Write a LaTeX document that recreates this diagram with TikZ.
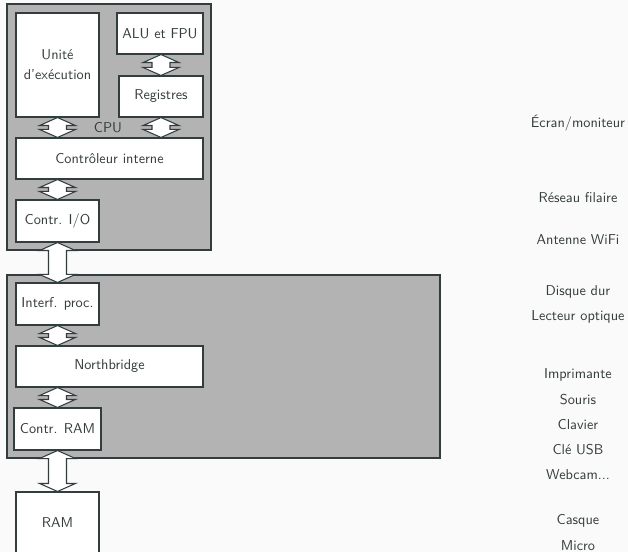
\documentclass[tikz,border=0pt]{standalone}
\usetikzlibrary{calc}
\definecolor{bg}{RGB}{250,250,250}
\definecolor{edge}{RGB}{50,62,62}
\definecolor{txt}{RGB}{52,60,60}
\definecolor{chip}{RGB}{179,179,179}
\newcommand\dbarrow[2]{\draw[arrowshape] (#1) -- ($(#1)+(18,8)$) -- ($(#1)+(9,8)$) -- ($(#2)+(9,-8)$) -- ($(#2)+(18,-8)$) -- (#2) -- ($(#2)+(-18,-8)$) -- ($(#2)+(-9,-8)$) -- ($(#1)+(-9,8)$) -- ($(#1)+(-18,8)$) -- cycle;}
\begin{document}
\begin{tikzpicture}[x=0.75pt,y=-0.75pt,
  every node/.style={font=\sffamily\fontsize{10.7}{15}\selectfont, text=txt},
  px/.style 2 args={minimum width=#1*0.75pt, minimum height=#2*0.75pt},
  box/.style={draw=edge, line width=0.8pt, fill=white, inner sep=0pt, align=center},
  chipbox/.style={draw=edge, line width=0.8pt, fill=chip, inner sep=0pt},
  arrowshape/.style={draw=edge, line width=0.8pt, fill=white, line join=miter},
  side/.style={anchor=center}]
\fill[bg] (0,0) rectangle (628,552);
\useasboundingbox (0,0) rectangle (628,552);
% CPU
\node[chipbox, px={204}{246}] (cpu) at (109,127) {};
\node[box, px={83}{104}] (exec) at (57.5,65) {Unité\\d'exécution};
\node[box, px={86}{41}] (alu) at (160,33.5) {ALU et FPU};
\node[box, px={84}{41}] (reg) at (161,96.5) {Registres};
\node[box, px={187}{41}] (ctrl) at (109.5,158.5) {Contrôleur interne};
\node[box, px={83}{42}] (cio) at (57.5,221) {Contr. I/O};
\node (cpulabel) at (108,128) {CPU};
% chipset
\node[chipbox, px={433}{183}] (chipset) at (223.5,366.5) {};
\node[box, px={83}{42}] (ip) at (57.5,304) {Interf. proc.};
\node[box, px={187}{41}] (nb) at (109.5,366.5) {Northbridge};
\node[box, px={87}{42}] (cram) at (57.5,429) {Contr. RAM};
\node[box, px={83}{62}] (ram) at (57.5,523) {RAM};
% arrows
\dbarrow{reg.north |- alu.south}{reg.north}
\dbarrow{exec.south}{exec.south |- ctrl.north}
\dbarrow{reg.south}{reg.south |- ctrl.north}
\dbarrow{cio.north |- ctrl.south}{cio.north}
\dbarrow{cio.south}{ip.north}
\dbarrow{ip.south}{ip.south |- nb.north}
\dbarrow{cram.north |- nb.south}{cram.north}
\dbarrow{cram.south}{ram.north}
% peripherals
\node[side] (ecran) at (578,123) {Écran/moniteur};
\node[side] (reseau) at (578,198) {Réseau filaire};
\node[side] (wifi) at (578,240) {Antenne WiFi};
\node[side] (disque) at (578,292) {Disque dur};
\node[side] (lecteur) at (578,317) {Lecteur optique};
\node[side] (impr) at (578,375) {Imprimante};
\node[side] (souris) at (578,400) {Souris};
\node[side] (clavier) at (578,425) {Clavier};
\node[side] (cle) at (578,450) {Clé USB};
\node[side] (webcam) at (578,475) {Webcam...};
\node[side] (casque) at (578,521) {Casque};
\node[side] (micro) at (578,546) {Micro};
\end{tikzpicture}
\end{document}
